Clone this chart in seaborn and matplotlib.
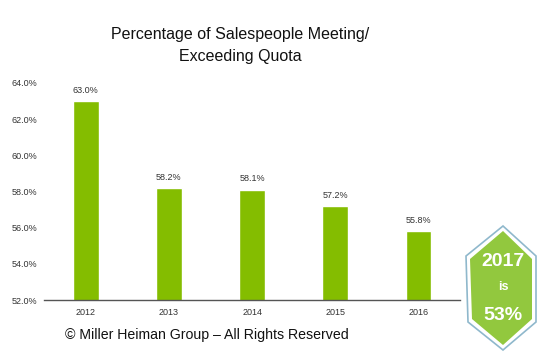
import matplotlib
matplotlib.use('Agg')
import matplotlib.pyplot as plt
from matplotlib.patches import Polygon
import seaborn as sns
import pandas as pd

# datos
years = ['2012', '2013', '2014', '2015', '2016']
pct = [63.0, 58.2, 58.1, 57.2, 55.8]
y_ticks = [52, 54, 56, 58, 60, 62, 64]

df = pd.DataFrame({'Year': years, 'Pct': pct})

sns.set_style('white')
plt.rcParams['font.family'] = ['Liberation Sans', 'DejaVu Sans']

fig = plt.figure(figsize=(5.37, 3.56), dpi=100)
ax = fig.add_axes([0.082, 0.157, 0.775, 0.61])

sns.barplot(data=df, x='Year', y='Pct', color='#84bd00', width=0.31,
            saturation=1, ax=ax)
ax.set_ylim(52, 64)
ax.set_xlim(-0.5, 4.5)
ax.set_yticks(y_ticks)
ax.set_yticklabels([f'{t:.1f}%' for t in y_ticks], fontsize=6.5, color='#333333')
ax.tick_params(axis='x', labelsize=6.5, colors='#333333', length=0, pad=6)
ax.tick_params(axis='y', length=0, pad=5)
ax.set_xlabel('')
ax.set_ylabel('')
for s in ['top', 'right', 'left']:
    ax.spines[s].set_visible(False)
ax.spines['bottom'].set_color('#555555')
ax.spines['bottom'].set_linewidth(1.0)

for i, v in enumerate(pct):
    ax.text(i, v + 0.35, f'{v:.1f}%', ha='center', va='bottom',
            fontsize=6.5, color='#333333')

fig.text(0.447, 0.873, 'Percentage of Salespeople Meeting/\nExceeding Quota',
         ha='center', va='center', fontsize=11.5, linespacing=1.6,
         color='#111111')

fig.text(0.121, 0.058, '© Miller Heiman Group – All Rights Reserved',
         ha='left', va='center', fontsize=10.2, color='#111111')

# insignia 2017
W, H = 537, 356
def fc(px, py):
    return (px / W, 1 - py / H)

outer = [fc(503, 226), fc(536, 256), fc(536, 322), fc(503, 350),
         fc(468, 322), fc(466, 256)]
inner = [fc(503, 231), fc(532, 259), fc(532, 319), fc(503, 345),
         fc(472, 319), fc(470, 259)]
fig.patches.append(Polygon(outer, closed=True, transform=fig.transFigure,
                           facecolor='white', edgecolor='#8fb8cc', lw=1.2))
fig.patches.append(Polygon(inner, closed=True, transform=fig.transFigure,
                           facecolor='#92c83e', edgecolor='none'))
fig.text(503 / W, 1 - 262 / H, '2017', ha='center', va='center',
         fontsize=14, fontweight='bold', color='white')
fig.text(503 / W, 1 - 287 / H, 'is', ha='center', va='center',
         fontsize=9, fontweight='bold', color='white')
fig.text(503 / W, 1 - 316 / H, '53%', ha='center', va='center',
         fontsize=14, fontweight='bold', color='white')

fig.savefig('out.png', dpi=100)
